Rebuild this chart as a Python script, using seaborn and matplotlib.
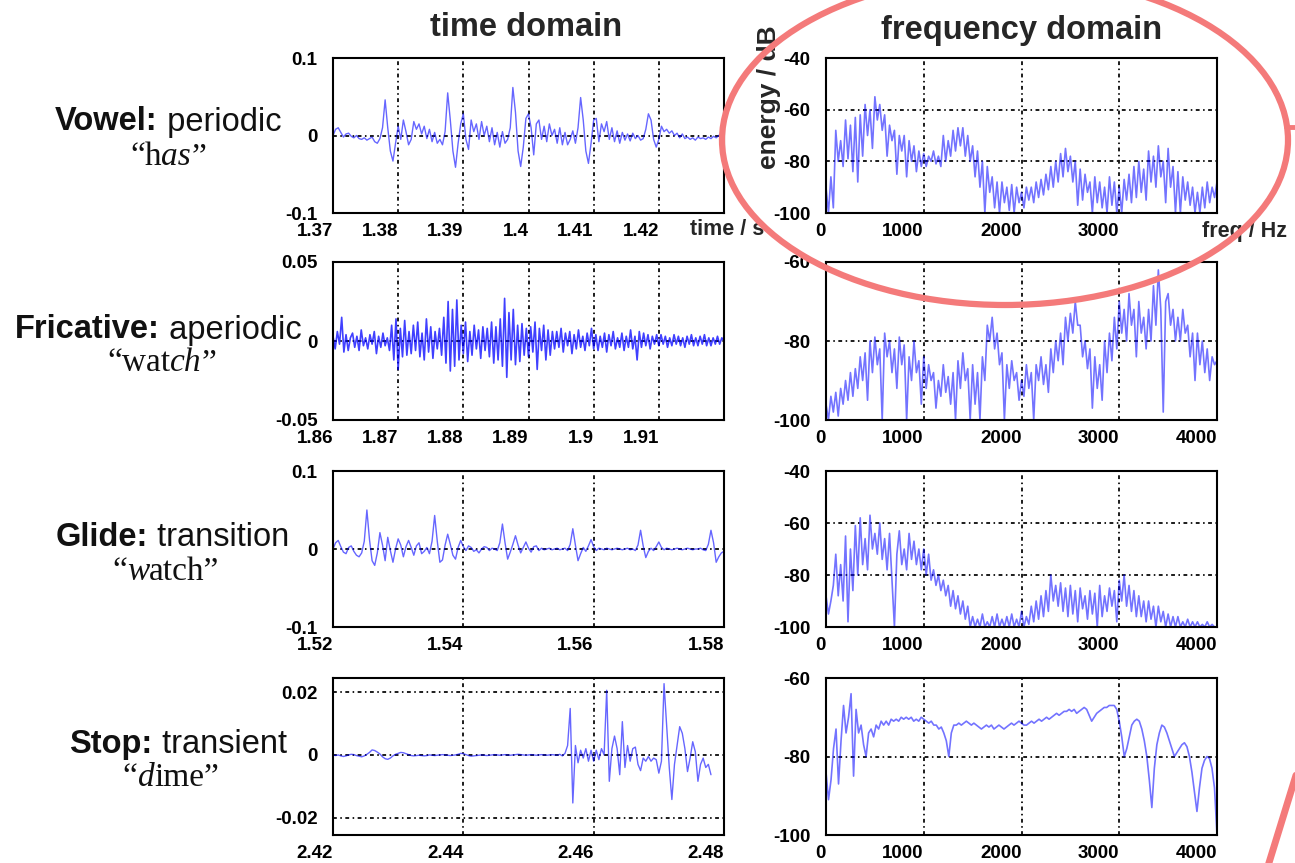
import numpy as np
import pandas as pd
import matplotlib
matplotlib.use("Agg")
import matplotlib.pyplot as plt
import seaborn as sns
from matplotlib.patches import Ellipse
from matplotlib.lines import Line2D

sns.set_theme(style="white")
plt.rcParams['font.family'] = ['Liberation Sans', 'DejaVu Sans']

# ---------------- data ----------------
row_titles = ["Vowel:", "Fricative:", "Glide:", "Stop:"]
row_kinds = ["periodic", "aperiodic", "transition", "transient"]

# time-domain waveforms (amplitude x 1e-3), sampled uniformly over each window
vowel_t = [1.37, 1.43]
vowel_amp_milli = [
    0, 8, 10, 4, -2, 2, 3, -1, -3, 0, -4, -5, -3, -6, -4, -2, -8, -10, -4, 10,
    46, 10, -20, -33, -10, 12, -5, 20, 5, -12, -5, 18, 8, 15, 2, 12, -4, 8, -8, 4, -10, -5, -12, 5,
    55, 20, -20, -41, -10, 15, 28, -5, -18, 20, 5, 15, -5, 18, 0, 12, -8, 10, -12, 4, -15, 5, -10, -5, 10,
    62, 30, -20, -40, -15, 22, 28, 10, -25, 15, 20, -5, 12, -8, 15, 0, 8, -10, 10, -12, 4, -12, -5, 6, -10, 10,
    49, 20, -20, -36, -10, 20, 22, -8, 15, 5, 18, -5, 10, -8, 6, -10, 4, -6, 2, -7, 3, -4, 0, -6, -4, 8,
    28, 20, -5, -15, -5, 12, 5, 8, 3, 6, 0, 3, -3, 2, -4, -2, -5, -3, -6, -2, -4, -3, -5, -2, -4, -1, -3, 0, 3, 6,
]

fric_t = [1.86, 1.92]
fric_amp_milli = [
    3, -5, 6, -2, 15, -7, 4, -6, 2, 5, -4, 3, -6, 7, -3, 2, -5, 4, -2, 6, -8, 3, -4, 5, -3, 2, -6,
    10, -12, 14, -18, 8, -10, 13, -9, 6,
    -8, 10, -6, 12, -10, 5, -12, 14, -7, 9, -11, 6, -5, 8, -9,
    15, -14, 25, -19, 20, -16, 26, -12, 10,
    -8, 12, -13, 6, -9, 10, -5, 7, -11, 9, -6, 8,
    -10, 12, -14, 9, -12, 14, -16, 27, -23, 18, -12, 20, -15, 10, -13, 11, -9, 8,
    -10, 9, -7, 12, -18, 8, -6, 10, -12, 7, -9, 6,
    -5, 6, -4, 8, -7, 5, -3, 6, -8, 4, -5, 7, -4, 3, -6, 5, -3, 8, -5, 4,
    -6, 3, -4, 5, -7, 4, -3, 6, -5, 2, -4, 5, -6, 3, -4, 7, -5, 3, -12, 6, -4, 5, -3, 4, -5, 3, -2, 4,
    -3, 4, -2, 3, -4, 2, -3, 4, -2, 3, -3, 2, -4, 3, -2, 4, -3, 2, -3, 3, -2, 4, -3, 2, -3, 2, -2, 3, -2, 2, 0,
]

glide_t = [1.52, 1.58]
glide_amp_milli = [
    0, 8, 11, 3, -4, -6, 2, 4, -3, -8, -10, -5, 10,
    50,
    12, -15, -21, -5, 21, 5, -15, 15, -2, -17, 0, 13, 5, -10, 3, 11, 2, -8, 4, 8, -6, -3, 2, -6, 10,
    43,
    10, -17, -14, 5, 19, 6, -8, -13, 2, 11, 3, -2, 4, 2, -3, -1, -5, 0, 3, 2, -2, 1, 0, -2, 8,
    32,
    8, -13, -4, 6, 17, 5, -5, 2, 9, 1, -4, 3, 4, -2, 1, -1, 0, 1, -1, 0, 1, -1, 0, 1, -2, 6,
    26,
    5, -15, -6, 2, -3, 4, 12, 3, -2, 1, 0, -1, 1, 0, -1, 0, 1, 0, -1, 0, 1, -1, 0, -2, 5,
    24,
    4, -11, -3, 1, -2, 3, 9, 2, -1, 1, 0, -1, 0, 1, 0, -1, 0, 1, 0, -1, 0, 0, 1, -1, -2, 6,
    24,
    8, -17, -10, -5, -3,
]

stop_t = [2.42, 2.478]
stop_amp_milli = [
    0, -0.2, 0, -0.3, -0.5, -0.3, 0, 0.2, 0.1, -0.2, -0.4, -0.6, -0.3, 0.2, 0.8,
    1.6, 1.4, 0.9, 0.3, -0.6, -1.2, -1.4, -1.0, -0.3, 0.2, 0.5, 0.8, 0.7, 0.4, 0.1, -0.2,
    -0.3, -0.2, -0.1, -0.2, -0.3, -0.2, 0, -0.1, -0.2, -0.1, 0, 0.1, 0, -0.1, -0.2, -0.1, 0, 0.2, 0.5, 0.4,
    0.1, -0.2, -0.4, -0.3, -0.2, -0.1, 0, -0.1, -0.2, -0.1,
    0, 0.1, 0, -0.1, 0, 0.1, 0, -0.1, 0, 0.1, 0.2, 0.1, 0, -0.1, 0, 0.1, 0, -0.1, 0, 0.1,
    0, -0.1, 0, 0.1, 0, -0.1, 0.2, -0.3, 0.5,
    3, 14.8, -15.3, 3, -2.5, 1.5, -1, 2, -2, 1.5, -2, 1.5, -1.5, 2, 0,
    20.6, -8.4, 2, 6, 2, -6.3, 10.6, -4, 3, -2, 2, 2.5, -3, -5, -1, -2, -0.5, -2, -1, -1.5, -5.8, -2,
    22.7, 9.5, -4, -14.2, -3, 3, 9, 6.9, 2, -5.3, -1, 4.2, 1, -8.4, -3, -1, -4, -3, -6.3,
]

# spectra in dB, 25 Hz steps from 0 to 4000 Hz
freq_range = [0, 4000]
vowel_db = [
    -90, -100, -86, -98, -68, -80, -72, -82, -64, -79, -66, -84, -63, -88, -62, -78,
    -58, -70, -60, -75, -55, -64, -58, -68, -62, -78, -66, -72, -68, -85, -70, -76,
    -70, -86, -72, -80, -74, -84, -76, -82, -77, -82, -78, -80, -76, -81, -78, -82,
    -70, -80, -72, -78, -68, -76, -67, -74, -67, -78, -70, -80, -74, -86, -76, -90,
    -80, -100, -82, -92, -86, -98, -88, -100, -88, -96, -90, -99, -89, -100, -90, -96,
    -92, -98, -90, -95, -90, -96, -88, -94, -87, -93, -85, -91, -82, -90, -80, -88,
    -77, -86, -75, -84, -78, -88, -80, -97, -83, -95, -85, -92, -88, -100, -86, -96,
    -88, -98, -90, -100, -86, -97, -88, -100, -90, -100, -87, -95, -85, -96, -82, -94,
    -80, -92, -83, -95, -76, -88, -78, -90, -74, -86, -80, -96, -75, -90, -82, -100,
    -84, -100, -86, -95, -88, -97, -90, -100, -92, -100, -90, -98, -88, -96, -90, -94,
    -88,
]
fric_db = [
    -96, -100, -94, -98, -93, -99, -92, -96, -90, -95, -88, -94, -87, -92, -84, -90,
    -83, -95, -80, -88, -79, -86, -82, -100, -78, -84, -80, -88, -82, -92, -79, -86,
    -81, -100, -84, -90, -80, -88, -85, -96, -84, -92, -86, -90, -88, -97, -90, -94,
    -86, -93, -89, -96, -88, -100, -85, -92, -83, -90, -87, -100, -86, -96, -88, -100,
    -84, -90, -76, -80, -74, -82, -78, -86, -83, -100, -86, -92, -85, -90, -88, -95,
    -90, -94, -86, -92, -88, -100, -86, -90, -84, -91, -86, -93, -82, -88, -80, -85,
    -78, -86, -74, -80, -73, -78, -70, -76, -76, -84, -80, -87, -82, -97, -84, -92,
    -86, -95, -80, -88, -78, -85, -74, -82, -70, -78, -72, -80, -68, -76, -72, -84,
    -70, -78, -74, -82, -72, -80, -66, -76, -62, -72, -98, -70, -68, -76, -72, -80,
    -74, -80, -72, -78, -76, -84, -78, -90, -78, -86, -80, -88, -82, -90, -84, -86,
    -85,
]
glide_db = [
    -88, -95, -90, -84, -72, -88, -76, -90, -65, -98, -70, -86, -61, -80, -58, -76,
    -66, -78, -57, -70, -64, -72, -60, -74, -66, -78, -64, -82, -100, -72, -63, -76,
    -70, -78, -64, -74, -67, -76, -70, -78, -70, -80, -72, -82, -78, -84, -80, -86,
    -82, -88, -84, -92, -86, -93, -88, -95, -90, -97, -92, -100, -96, -100, -97, -100,
    -95, -100, -98, -100, -96, -100, -95, -100, -97, -100, -96, -100, -95, -100, -97, -100,
    -94, -100, -96, -99, -92, -98, -90, -97, -88, -96, -86, -94, -80, -90, -84, -92,
    -83, -94, -85, -96, -84, -95, -86, -98, -85, -93, -88, -97, -86, -95, -87, -100,
    -84, -96, -88, -94, -85, -92, -86, -98, -82, -90, -80, -92, -84, -94, -86, -96,
    -88, -96, -90, -98, -90, -97, -92, -100, -92, -98, -94, -100, -95, -100, -96, -100,
    -96, -100, -98, -100, -97, -100, -98, -100, -98, -100, -99, -100, -98, -100, -99, -100,
    -100,
]
stop_db = [
    -84, -91, -86, -78, -73, -87, -76, -67, -74, -70, -64, -85, -68, -74, -72, -77,
    -80, -74, -73, -75, -72, -73, -71, -72, -71, -72, -70.5, -71, -70.5, -71, -70, -70.5,
    -70, -70.5, -70, -71, -70.5, -71, -70, -70.5, -71, -71.5, -71, -72, -72, -73, -72.5, -74,
    -76, -80, -74, -72, -72, -71.5, -72, -71.5, -71, -71.5, -72, -71.5, -72, -72.5, -73, -72.5,
    -72, -72.5, -72, -73, -72.5, -72, -72.5, -73, -72.5, -72, -71.5, -72, -71.5, -71, -71.5, -72,
    -72, -71.5, -71, -71.5, -71, -70.5, -71, -70.5, -70, -70.5, -70, -69.5, -69, -69.5, -69, -68.5,
    -68.5, -68, -68.5, -68, -69, -68.5, -68, -67.5, -68, -69.5, -71, -70, -69, -68.5, -68, -67.5,
    -67.5, -67, -67, -67, -68, -71, -75, -80, -78, -75, -72, -71, -70.5, -71, -73, -76,
    -80, -86, -93, -83, -77, -74, -72, -72.5, -74, -76, -78, -80, -79, -78, -77, -76.5,
    -77.5, -80, -84, -89, -94, -88, -83, -81, -80, -80.5, -83, -88,
    -100,
]

time_sets = [(vowel_t, vowel_amp_milli), (fric_t, fric_amp_milli),
             (glide_t, glide_amp_milli), (stop_t, stop_amp_milli)]
spec_sets = [vowel_db, fric_db, glide_db, stop_db]

time_xticks = [[1.37, 1.38, 1.39, 1.40, 1.41, 1.42],
               [1.86, 1.87, 1.88, 1.89, 1.90, 1.91],
               [1.52, 1.54, 1.56, 1.58],
               [2.42, 2.44, 2.46, 2.48]]
time_xlabels = [["1.37", "1.38", "1.39", "1.4", "1.41", "1.42"],
                ["1.86", "1.87", "1.88", "1.89", "1.9", "1.91"],
                ["1.52", "1.54", "1.56", "1.58"],
                ["2.42", "2.44", "2.46", "2.48"]]
time_xlims = [(1.37, 1.43), (1.86, 1.92), (1.52, 1.58), (2.42, 2.48)]
time_yticks = [[-0.1, 0, 0.1], [-0.05, 0, 0.05], [-0.1, 0, 0.1], [-0.02, 0, 0.02]]
time_ylabels = [["-0.1", "0", "0.1"], ["-0.05", "0", "0.05"], ["-0.1", "0", "0.1"],
                ["-0.02", "0", "0.02"]]
time_ylims = [(-0.1, 0.1), (-0.05, 0.05), (-0.1, 0.1), (-0.0255, 0.0245)]

freq_xticks = [[0, 1000, 2000, 3000], [0, 1000, 2000, 3000, 4000],
               [0, 1000, 2000, 3000, 4000], [0, 1000, 2000, 3000, 4000]]
freq_yticks = [[-100, -80, -60, -40], [-100, -80, -60], [-100, -80, -60, -40], [-100, -80, -60]]

# ---------------- figure ----------------
W, H = 1295, 863
fig = plt.figure(figsize=(W / 100, H / 100), dpi=100)
fig.patch.set_facecolor("white")

rows_px = [(58, 213), (262, 420), (471, 627), (678, 835)]
left_px = (333, 724)
right_px = (826, 1217)

def add_ax(xp, yp):
    x0, x1 = xp
    y0, y1 = yp
    return fig.add_axes([x0 / W, 1 - y1 / H, (x1 - x0) / W, (y1 - y0) / H])

grid_ls = (0, (2.2, 2.0, 0.9, 2.0))
tick_fs = 13.5

def style_ax(ax):
    ax.set_facecolor("white")
    for s in ax.spines.values():
        s.set_color("black")
        s.set_linewidth(1.5)
        s.set_visible(True)
    ax.grid(True, color="black", linestyle=grid_ls, linewidth=1.25)
    ax.tick_params(length=0, labelsize=tick_fs, colors="black")
    ax.tick_params(axis="x", pad=7)
    ax.tick_params(axis="y", pad=11)
    ax.set_xlabel("")
    ax.set_ylabel("")

for r in range(4):
    # time domain
    ax = add_ax(left_px, rows_px[r])
    (t0, t1), amp = time_sets[r]
    df = pd.DataFrame({"t": np.linspace(t0, t1, len(amp)),
                       "a": np.array(amp, dtype=float) * 1e-3})
    sns.lineplot(data=df, x="t", y="a", ax=ax, color="#0000ff",
                 alpha=(0.75 if r == 1 else 0.6), linewidth=(1.2 if r == 1 else 1.0),
                 sort=False, estimator=None)
    ax.set_xlim(*time_xlims[r])
    ax.set_ylim(*time_ylims[r])
    style_ax(ax)
    ax.set_xticks(time_xticks[r])
    ax.set_xticklabels(time_xlabels[r], fontweight="bold", ha="right")
    ax.set_yticks(time_yticks[r])
    ax.set_yticklabels(time_ylabels[r], fontweight="bold")
    if r == 0:
        ax.text(1.008, -0.105, "time / s", transform=ax.transAxes, ha="center", va="center",
                fontsize=15.5, fontweight="bold", zorder=30)

    # frequency domain
    axf = add_ax(right_px, rows_px[r])
    db = spec_sets[r]
    dff = pd.DataFrame({"f": np.linspace(freq_range[0], freq_range[1], len(db)), "e": db})
    sns.lineplot(data=dff, x="f", y="e", ax=axf, color="#0000ff", alpha=0.55,
                 linewidth=1.2, sort=False, estimator=None)
    axf.set_xlim(0, 4000)
    axf.set_ylim(-100, freq_yticks[r][-1])
    style_ax(axf)
    axf.set_xticks(freq_xticks[r])
    axf.set_xticklabels([str(v) for v in freq_xticks[r]], fontweight="bold", ha="right")
    axf.set_yticks(freq_yticks[r])
    axf.set_yticklabels([str(v) for v in freq_yticks[r]], fontweight="bold")
    if r == 0:
        axf.text(1.07, -0.12, "freq / Hz", transform=axf.transAxes, ha="center", va="center",
                 fontsize=15.5, fontweight="bold")
        axf.set_ylabel("energy / dB", fontsize=19, fontweight="bold")
        axf.yaxis.set_label_coords(-0.115, 0.75)

# column titles
fig.text(526 / W, 1 - 27 / H, "time domain", ha="center", va="center",
         fontsize=23.5, fontweight="bold")
fig.text(1022 / W, 1 - 30 / H, "frequency domain", ha="center", va="center",
         fontsize=23.5, fontweight="bold")

# row labels built from styled pieces
renderer = fig.canvas.get_renderer()

def rich_line(cx, cy, pieces):
    objs = []
    total = 0.0
    for s, kw in pieces:
        t = fig.text(0, 1 - cy / H, s, ha="left", va="center", **kw)
        w = t.get_window_extent(renderer).width
        objs.append((t, w))
        total += w
    x = cx - total / 2
    for t, w in objs:
        t.set_x(x / W)
        x += w

sans_b = dict(fontsize=23.5, fontweight="bold", color="#111111")
sans_r = dict(fontsize=23.5, color="#111111")
serif_r = dict(fontsize=24, family=["Liberation Serif", "DejaVu Serif"], color="#111111")
serif_i = dict(fontsize=24, family=["Liberation Serif", "DejaVu Serif"], style="italic",
               color="#111111")

label_pos = [((168, 122), (168, 157)), ((158, 330), (162, 363)),
             ((172, 537), (166, 572)), ((178, 744), (171, 778))]
second_lines = [
    [("\u201ch", serif_r), ("as", serif_i), ("\u201d", serif_r)],
    [("\u201cwat", serif_r), ("ch", serif_i), ("\u201d", serif_r)],
    [("\u201c", serif_r), ("w", serif_i), ("atch\u201d", serif_r)],
    [("\u201c", serif_r), ("d", serif_i), ("ime\u201d", serif_r)],
]
for r in range(4):
    (c1, c2) = label_pos[r]
    rich_line(c1[0], c1[1], [(row_titles[r], sans_b), ("\u00a0" + row_kinds[r], sans_r)])
    rich_line(c2[0], c2[1], second_lines[r])

# red annotation marks
red = "#f47a7a"
fig.add_artist(Ellipse((1005 / W, 1 - 140 / H), 566 / W, 330 / H, transform=fig.transFigure,
                       fill=False, edgecolor=red, linewidth=4.5, zorder=20))
fig.add_artist(Line2D([1286 / W, 1296 / W], [1 - 127 / H, 1 - 127 / H], transform=fig.transFigure,
                      color=red, linewidth=3.5, zorder=20))
fig.add_artist(Line2D([1268 / W, 1297 / W], [1 - 866 / H, 1 - 772 / H], transform=fig.transFigure,
                      color=red, linewidth=5, zorder=20))

fig.savefig("out.png", dpi=100, facecolor="white")
